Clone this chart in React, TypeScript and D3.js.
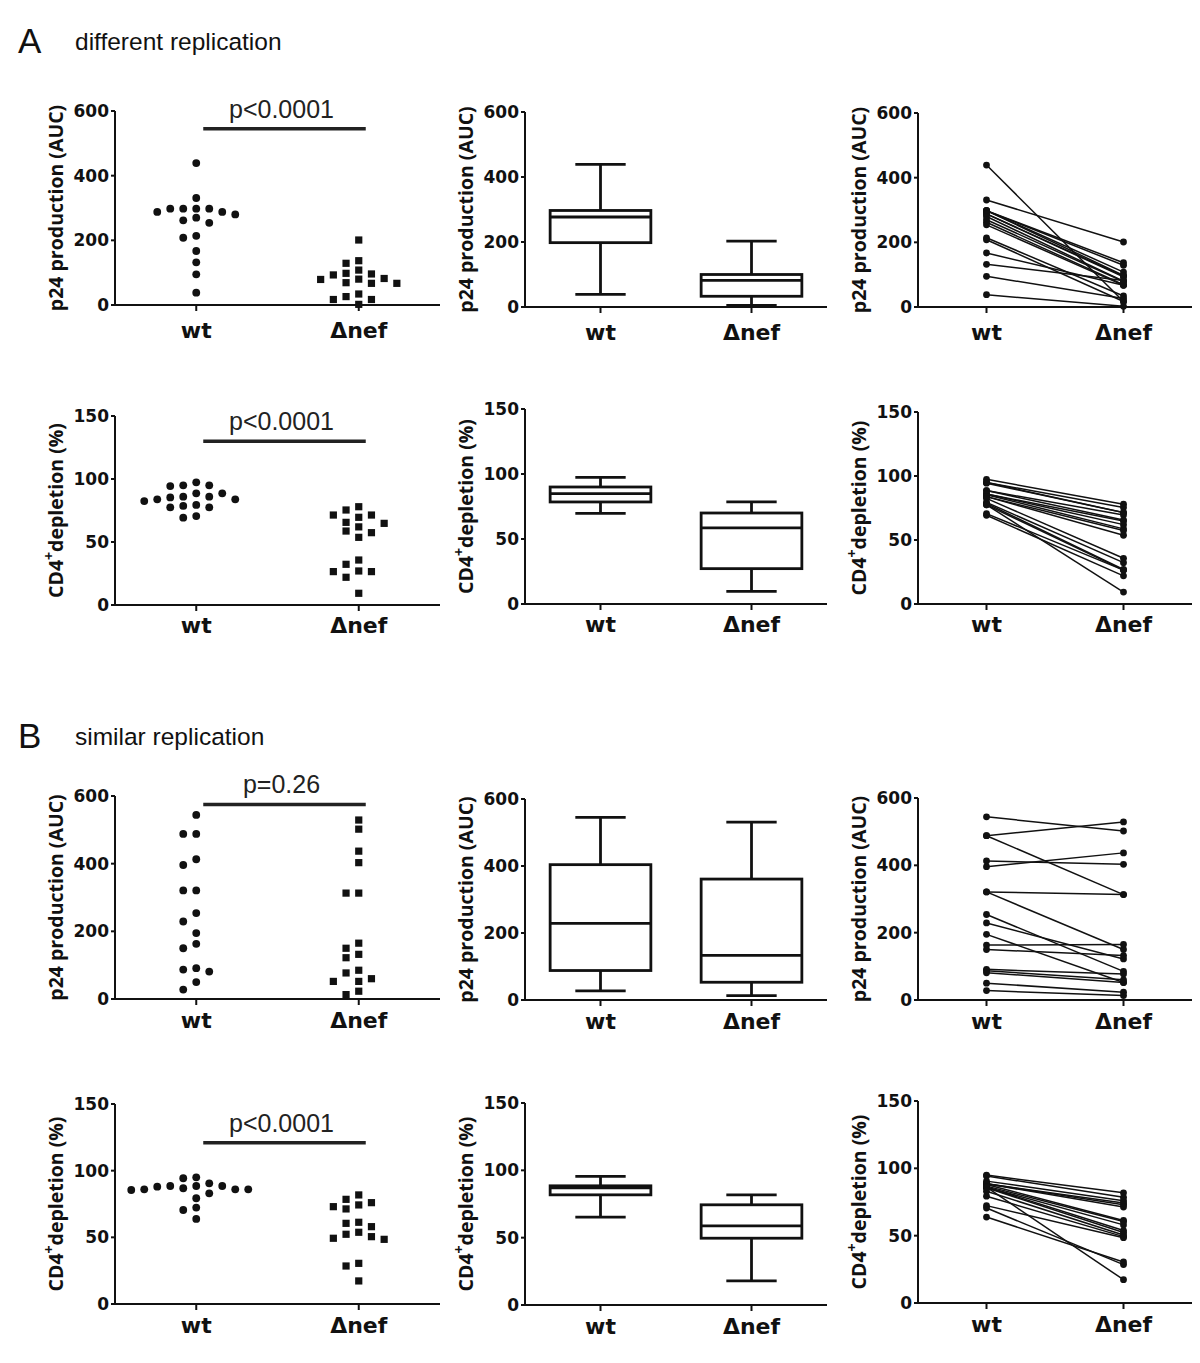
import React from "react";
import * as d3 from "d3";

// ---------- DATA ----------
const categories = ["wt", "Δnef"];

const p24Ticks = [0, 200, 400, 600];
const cd4Ticks = [0, 50, 100, 150];

// A: different replication — paired by index (wt[i] ↔ Δnef[i])
const aP24Wt = [439, 331, 298, 298, 298, 298, 288, 288, 280, 270, 262, 254, 214, 208, 167, 132, 95, 38];
const aP24Nef = [17, 201, 137, 129, 108, 98, 96, 93, 80, 79, 69, 67, 34, 17, 67, 82, 26, 2];
const aCd4Wt = [97.4, 95, 95, 94.4, 88.6, 88.6, 86, 86, 85.4, 83.9, 83.9, 82.5, 79.4, 78.6, 77.5, 77.5, 70.6, 69.3];
const aCd4Nef = [78, 75.4, 71.4, 71.4, 69.6, 65.6, 64.8, 62, 58.7, 57.4, 53.7, 35.7, 32.3, 27, 26.5, 9.3, 26.5, 22];

// B: similar replication
const bP24Wt = [544, 488, 488, 413, 396, 321, 321, 254, 229, 195, 163, 150, 91, 87, 81, 50, 28];
const bP24Nef = [502, 529, 313, 403, 437, 313, 150, 85, 122, 52, 165, 132, 77, 60, 52, 23, 13];
const bCd4Wt = [95, 94.3, 90.5, 88.5, 88.5, 88.5, 88, 86.8, 86, 86, 86, 85.5, 83, 79.3, 72.3, 70.5, 63.8];
const bCd4Nef = [81.8, 78.5, 76, 74.3, 73, 71.3, 61.3, 60.5, 58, 17.3, 53.8, 52.3, 50.5, 49.3, 48.5, 28.5, 30.5];

// box stats: [min, Q1, median, Q3, max]
const aP24BoxWt = [39, 198, 277, 297, 439];
const aP24BoxNef = [5, 33, 82, 100, 203];
const aCd4BoxWt = [69.7, 78.5, 84.9, 90, 97.4];
const aCd4BoxNef = [9.7, 27.2, 58.5, 70, 78.5];
const bP24BoxWt = [27, 88, 229, 404, 545];
const bP24BoxNef = [13, 53, 133, 361, 531];
const bCd4BoxWt = [65.2, 81.8, 87, 88.5, 95.5];
const bCd4BoxNef = [17.9, 49.6, 58.8, 74.4, 81.8];

const pTexts = ["p<0.0001", "p<0.0001", "p=0.26", "p<0.0001"];
const sigLevels = [545, 130, 575, 121];

const sectionTitles = ["A", "B"];
const sectionSubtitles = ["different replication", "similar replication"];

// ---------- LAYOUT ----------
const colX = { scatter: [115, 440], box: [525, 827], paired: [918, 1192] };
const rowLayout = [
  { scatter: [111, 305], box: [112, 307], paired: [113, 307], catDy: 33 },
  { scatter: [416, 605], box: [409, 604], paired: [412, 604], catDy: 28 },
  { scatter: [796, 999], box: [799, 1000], paired: [798, 1000], catDy: 29 },
  { scatter: [1104, 1304], box: [1103, 1305], paired: [1101, 1303], catDy: 29 },
];

const rows = [
  { wt: aP24Wt, nef: aP24Nef, boxWt: aP24BoxWt, boxNef: aP24BoxNef, ticks: p24Ticks, kind: "p24" },
  { wt: aCd4Wt, nef: aCd4Nef, boxWt: aCd4BoxWt, boxNef: aCd4BoxNef, ticks: cd4Ticks, kind: "cd4" },
  { wt: bP24Wt, nef: bP24Nef, boxWt: bP24BoxWt, boxNef: bP24BoxNef, ticks: p24Ticks, kind: "p24" },
  { wt: bCd4Wt, nef: bCd4Nef, boxWt: bCd4BoxWt, boxNef: bCd4BoxNef, ticks: cd4Ticks, kind: "cd4" },
];

const INK = "#111";
const tickFont = "'DejaVu Sans', sans-serif";
const titleFont = "'Open Sans', sans-serif";
const helv = "'Liberation Sans', Arial, sans-serif";

function swarm(values: number[], y: (v: number) => number, colW: number, minDy: number) {
  const order = values.map((_, i) => i).sort((a, b) => values[b] - values[a]);
  const placed: { k: number; py: number }[] = [];
  const offs: number[] = new Array(values.length).fill(0);
  for (const i of order) {
    const py = y(values[i]);
    for (let j = 0; j < 40; j++) {
      const k = j === 0 ? 0 : j % 2 === 1 ? -Math.ceil(j / 2) : Math.ceil(j / 2);
      if (!placed.some((p) => p.k === k && Math.abs(p.py - py) < minDy)) {
        placed.push({ k, py });
        offs[i] = k * colW;
        break;
      }
    }
  }
  return offs;
}

function YTitle({ kind, x, y }: { kind: string; x: number; y: number }) {
  return (
    <text
      transform={`translate(${x},${y}) rotate(-90)`}
      textAnchor="middle"
      fontFamily={titleFont}
      fontWeight={700}
      fontSize={19.5}
      fill={INK}
    >
      {kind === "p24" ? (
        "p24 production (AUC)"
      ) : (
        <>
          CD4
          <tspan dy={-9} fontSize={14}>+</tspan>
          <tspan dy={9}>depletion (%)</tspan>
        </>
      )}
    </text>
  );
}

function Axes({ x, y, ticks, x0, x1, catDy, kind }: any) {
  const [b, t] = y.range();
  return (
    <g>
      <line x1={x0} x2={x0} y1={y(ticks[ticks.length - 1])} y2={b + 1} stroke={INK} strokeWidth={2} />
      <line x1={x0 - 1} x2={x1} y1={b} y2={b} stroke={INK} strokeWidth={2} />
      {ticks.map((tv: number) => (
        <g key={tv}>
          <line x1={x0 - 4} x2={x0} y1={y(tv)} y2={y(tv)} stroke={INK} strokeWidth={2} />
          <text
            x={x0 - 6}
            y={y(tv)}
            dy="0.36em"
            textAnchor="end"
            fontFamily={tickFont}
            fontWeight={700}
            fontSize={17}
            fill={INK}
          >
            {tv}
          </text>
        </g>
      ))}
      {categories.map((c) => (
        <g key={c}>
          <line x1={x(c)} x2={x(c)} y1={b} y2={b + 6} stroke={INK} strokeWidth={2} />
          <text
            x={x(c)}
            y={b + catDy}
            textAnchor="middle"
            fontFamily={tickFont}
            fontWeight={700}
            fontSize={22}
            fill={INK}
          >
            {c}
          </text>
        </g>
      ))}
      <YTitle kind={kind} x={x0 - 52} y={(b + t) / 2} />
    </g>
  );
}

function makeScales(ticks: number[], range: number[], xr: number[]) {
  const y = d3.scaleLinear().domain([0, ticks[ticks.length - 1]]).range([range[1], range[0]]);
  const x = d3.scalePoint<string>().domain(categories).range([xr[0], xr[1]]).padding(0.5);
  return { x, y };
}

function ScatterPanel({ row, lay, p, sig }: any) {
  const { x, y } = makeScales(row.ticks, lay.scatter, colX.scatter);
  const offW = swarm(row.wt, y, 13, 8.5);
  const offN = swarm(row.nef, y, 12.7, 8.5);
  const xw = x("wt")!;
  const xn = x("Δnef")!;
  const sy = y(sig);
  return (
    <g>
      <Axes x={x} y={y} ticks={row.ticks} x0={colX.scatter[0]} x1={colX.scatter[1]} catDy={lay.catDy} kind={row.kind} />
      <line x1={xw + 7} x2={xn + 7} y1={sy} y2={sy} stroke="#222" strokeWidth={3.5} />
      <text x={(xw + xn) / 2 + 4} y={sy - 11} textAnchor="middle" fontFamily={helv} fontSize={25} fill="#222">
        {p}
      </text>
      {row.wt.map((v: number, i: number) => (
        <circle key={"w" + i} cx={xw + offW[i]} cy={y(v)} r={3.9} fill={INK} />
      ))}
      {row.nef.map((v: number, i: number) => (
        <rect key={"n" + i} x={xn + offN[i] - 3.6} y={y(v) - 3.6} width={7.2} height={7.2} fill={INK} />
      ))}
    </g>
  );
}

function BoxPanel({ row, lay }: any) {
  const { x, y } = makeScales(row.ticks, lay.box, colX.box);
  const bw = x.step() * 0.667;
  const cw = bw / 2;
  const boxes = [
    { c: "wt", s: row.boxWt },
    { c: "Δnef", s: row.boxNef },
  ];
  return (
    <g>
      <Axes x={x} y={y} ticks={row.ticks} x0={colX.box[0]} x1={colX.box[1]} catDy={lay.catDy} kind={row.kind} />
      {boxes.map(({ c, s }) => {
        const cx = x(c)!;
        const [mn, q1, md, q3, mx] = s;
        return (
          <g key={c} stroke={INK} strokeWidth={2.8} fill="none">
            <line x1={cx} x2={cx} y1={y(q3)} y2={y(mx)} />
            <line x1={cx} x2={cx} y1={y(q1)} y2={y(mn)} />
            <line x1={cx - cw / 2} x2={cx + cw / 2} y1={y(mx)} y2={y(mx)} />
            <line x1={cx - cw / 2} x2={cx + cw / 2} y1={y(mn)} y2={y(mn)} />
            <rect x={cx - bw / 2} y={y(q3)} width={bw} height={y(q1) - y(q3)} fill="#fff" />
            <line x1={cx - bw / 2} x2={cx + bw / 2} y1={y(md)} y2={y(md)} />
          </g>
        );
      })}
    </g>
  );
}

function PairedPanel({ row, lay }: any) {
  const { x, y } = makeScales(row.ticks, lay.paired, colX.paired);
  const xw = x("wt")!;
  const xn = x("Δnef")!;
  return (
    <g>
      <Axes x={x} y={y} ticks={row.ticks} x0={colX.paired[0]} x1={colX.paired[1]} catDy={lay.catDy} kind={row.kind} />
      {row.wt.map((v: number, i: number) => (
        <line key={"l" + i} x1={xw} x2={xn} y1={y(v)} y2={y(row.nef[i])} stroke={INK} strokeWidth={1.5} />
      ))}
      {row.wt.map((v: number, i: number) => (
        <circle key={"a" + i} cx={xw} cy={y(v)} r={3.4} fill={INK} />
      ))}
      {row.nef.map((v: number, i: number) => (
        <circle key={"b" + i} cx={xn} cy={y(v)} r={3.4} fill={INK} />
      ))}
    </g>
  );
}

export default function App() {
  const headY = [50, 745];
  return (
    <svg
      width={1200}
      height={1363}
      viewBox="0 0 1200 1363"
      style={{ position: "absolute", left: 0, top: 0, background: "#fff" }}
    >
      <rect width={1200} height={1363} fill="#fff" />
      {sectionTitles.map((t, i) => (
        <g key={t}>
          <text x={18} y={headY[i] + 3} fontFamily={helv} fontSize={35} fill={INK}>
            {t}
          </text>
          <text x={75} y={headY[i]} fontFamily={helv} fontSize={24.5} fill={INK}>
            {sectionSubtitles[i]}
          </text>
        </g>
      ))}
      {rows.map((row, i) => (
        <g key={i}>
          <ScatterPanel row={row} lay={rowLayout[i]} p={pTexts[i]} sig={sigLevels[i]} />
          <BoxPanel row={row} lay={rowLayout[i]} />
          <PairedPanel row={row} lay={rowLayout[i]} />
        </g>
      ))}
    </svg>
  );
}
